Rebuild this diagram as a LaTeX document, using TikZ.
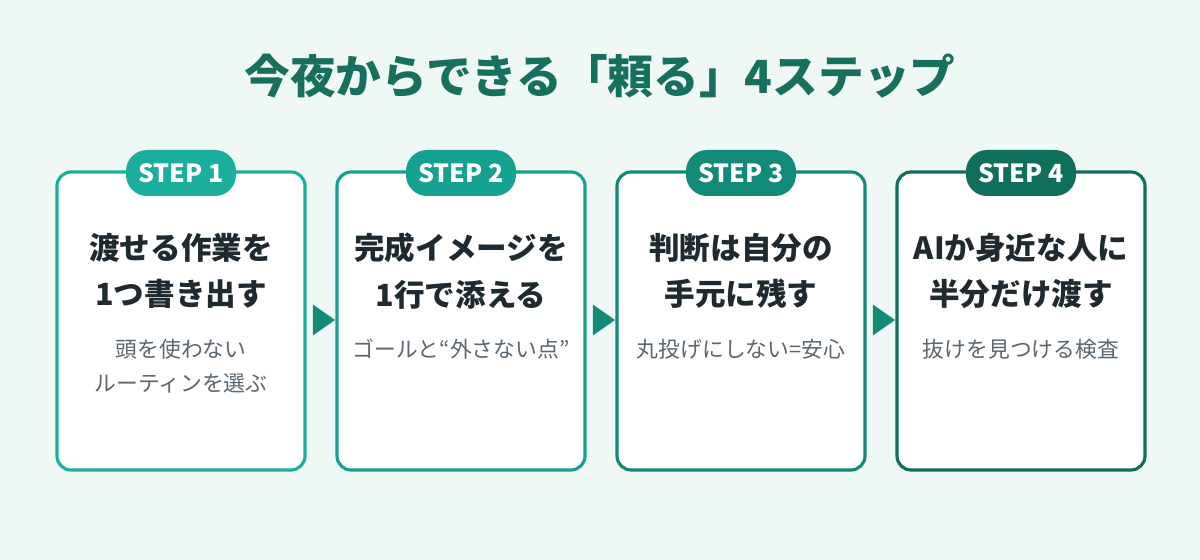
\documentclass[tikz,border=0pt]{standalone}
\usepackage{fontspec}
\setmainfont{Noto Sans CJK JP}
\usetikzlibrary{shapes.geometric}
\definecolor{bgmint}{HTML}{EFF8F5}
\definecolor{titlegreen}{HTML}{17705E}
\definecolor{inkdark}{HTML}{1F2A30}
\definecolor{inkgray}{HTML}{5A6670}
\definecolor{stepa}{HTML}{1BAE9C}
\definecolor{stepb}{HTML}{15A18F}
\definecolor{stepc}{HTML}{118A78}
\definecolor{stepd}{HTML}{0F6E5C}
\tikzset{
  card/.style = {draw = #1, line width = 1.8pt, fill = white, rounded corners = 8pt},
  badge/.style = {fill = #1, rounded corners = 12pt, minimum width = 110*0.02cm, minimum height = 46*0.02cm, text = white, font = \fontsize{14.2}{16}\selectfont\bfseries},
  head/.style = {text = inkdark, font = \fontsize{17.4}{26.6}\selectfont\bfseries, align = center},
  sub/.style = {text = inkgray, font = \fontsize{12.4}{19.3}\selectfont, align = center},
  pointer/.style = {isosceles triangle, isosceles triangle apex angle = 70, fill = stepc, inner sep = 0pt, minimum height = 22*0.02cm}
}
\begin{document}
\begin{tikzpicture}[x = 0.02cm, y = -0.02cm]
\fill[bgmint] (0,0) rectangle (1200,560);
\node[text = titlegreen, font = \fontsize{26}{28}\selectfont\bfseries] (title) at (600,76) {今夜からできる「頼る」4ステップ};
\foreach \n/\col/\hd/\sb in {
  1/stepa/{渡せる作業を\\1つ書き出す}/{頭を使わない\\ルーティンを選ぶ},
  2/stepb/{完成イメージを\\1行で添える}/{ゴールと“外さない点”},
  3/stepc/{判断は自分の\\手元に残す}/{丸投げにしない=安心},
  4/stepd/{AIか身近な人に\\半分だけ渡す}/{抜けを見つける検査}} {
  \pgfmathsetmacro\cx{181+280*(\n-1)}
  \draw[card = \col] (\cx-124,172) rectangle (\cx+124,470);
  \node[badge = \col] (badge\n) at (\cx,173) {STEP \n};
  \node[head] (head\n) at (\cx,271) {\hd};
  \node[sub, anchor = north] (sub\n) at (\cx,333) {\sb};
}
\foreach \n in {1,2,3} {
  \pgfmathsetmacro\ax{321+280*(\n-1)}
  \node[pointer] (arrow\n) at (\ax,320) {};
}
\end{tikzpicture}
\end{document}
